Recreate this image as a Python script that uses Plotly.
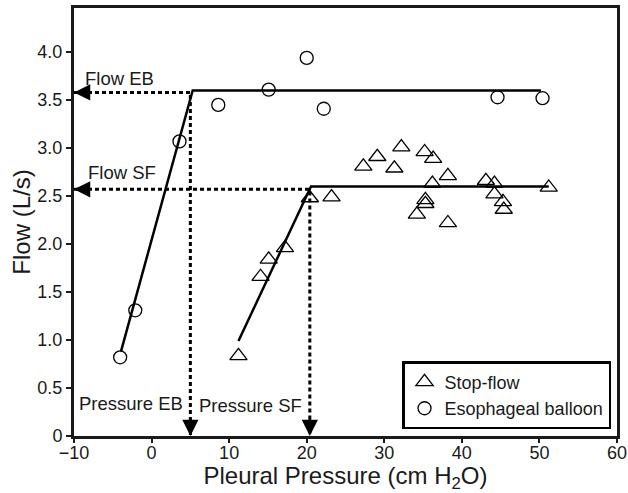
import plotly.graph_objects as go

# Esophageal balloon (circles)
eb_x = [-4.05, -2.1, 3.6, 8.6, 15.1, 20.0, 22.2, 44.6, 50.4]
eb_y = [0.82, 1.31, 3.07, 3.45, 3.61, 3.94, 3.41, 3.53, 3.52]

# Stop-flow (triangles)
sf_x = [11.2, 14.05, 15.1, 17.2, 20.4, 23.2, 27.3, 29.1, 31.3, 32.2, 34.2, 35.2,
        35.3, 35.3, 36.3, 36.2, 38.2, 38.2, 43.1, 44.2, 44.2, 45.3, 45.4, 51.2]
sf_y = [0.835, 1.66, 1.84, 1.96, 2.48, 2.49, 2.81, 2.91, 2.79, 3.01, 2.31, 2.96,
        2.46, 2.42, 2.89, 2.63, 2.71, 2.22, 2.66, 2.63, 2.52, 2.44, 2.36, 2.59]

# Fitted lines (start, break, end)
eb_fit_x = [-3.95, 5.3, 50.2]
eb_fit_y = [0.88, 3.6, 3.6]
sf_fit_x = [11.2, 20.55, 51.2]
sf_fit_y = [0.99, 2.6, 2.6]

eb_break = (5.0, 3.58)
sf_break = (20.4, 2.57)

x_min, x_max = -10, 60
y_min, y_max = 0, 4.46

x_ticks = [-10, 0, 10, 20, 30, 40, 50, 60]
y_ticks = [0, 0.5, 1.0, 1.5, 2.0, 2.5, 3.0, 3.5, 4.0]
y_ticktext = ["0", "0.5", "1.0", "1.5", "2.0", "2.5", "3.0", "3.5", "4.0"]

FONT = "Liberation Sans, Arial, sans-serif"
INK = "#1a1a1a"

fig = go.Figure()

dash_style = dict(color="black", width=3, dash="4px,3px")
for bx, by in (eb_break, sf_break):
    fig.add_trace(go.Scatter(x=[x_min, bx, bx], y=[by, by, y_min], mode="lines",
                             line=dash_style, showlegend=False, hoverinfo="skip"))

fig.add_trace(go.Scatter(x=eb_fit_x, y=eb_fit_y, mode="lines",
                         line=dict(color="black", width=2.5), showlegend=False))
fig.add_trace(go.Scatter(x=sf_fit_x, y=sf_fit_y, mode="lines",
                         line=dict(color="black", width=2.5), showlegend=False))

fig.add_trace(go.Scatter(x=sf_x, y=sf_y, mode="markers", name="Stop-flow",
                         marker=dict(symbol="triangle-up-open", size=15, color="black",
                                     line=dict(width=1.3, color="black"))))
fig.add_trace(go.Scatter(x=eb_x, y=eb_y, mode="markers", name="Esophageal balloon",
                         marker=dict(symbol="circle-open", size=13, color="black",
                                     line=dict(width=1.3, color="black"))))

# Arrowheads
annotations = []
for bx, by in (eb_break, sf_break):
    annotations.append(dict(x=x_min, y=by, ax=x_min + 1.6, ay=by, axref="x", ayref="y",
                            xref="x", yref="y", text="", showarrow=True, arrowhead=2,
                            arrowsize=1.3, arrowwidth=2.5, arrowcolor="black", standoff=0))
    annotations.append(dict(x=bx, y=y_min, ax=bx, ay=y_min + 0.2, axref="x", ayref="y",
                            xref="x", yref="y", text="", showarrow=True, arrowhead=2,
                            arrowsize=1.3, arrowwidth=2.5, arrowcolor="black", standoff=0))

labels = [("Flow EB", -8.9, 3.73), ("Flow SF", -8.5, 2.75),
          ("Pressure EB", -9.6, 0.34), ("Pressure SF", 5.8, 0.32)]
for t, lx, ly in labels:
    annotations.append(dict(x=lx, y=ly, text=t, showarrow=False, xanchor="left",
                            yanchor="middle", font=dict(size=18.5, color=INK, family=FONT)))

fig.update_layout(
    width=628, height=493,
    margin=dict(l=74, r=11, t=8, b=57),
    plot_bgcolor="white", paper_bgcolor="white",
    font=dict(family=FONT, color=INK, size=18),
    annotations=annotations,
    legend=dict(x=0.989, y=0.016, xanchor="right", yanchor="bottom",
                bordercolor="black", borderwidth=2.5, bgcolor="white",
                font=dict(size=18, family=FONT, color=INK), itemwidth=30,
                tracegroupgap=0),
    xaxis=dict(range=[x_min, x_max], tickvals=x_ticks, showgrid=False, zeroline=False,
               showline=True, linecolor=INK, linewidth=3, mirror=True,
               ticks="outside", ticklen=4, tickwidth=1.5, tickcolor=INK,
               tickfont=dict(size=18), automargin=False, ticklabelstandoff=-6,
               title=dict(text="Pleural Pressure (cm H<sub>2</sub>O)", font=dict(size=24),
                          standoff=8)),
    yaxis=dict(range=[y_min, y_max], tickvals=y_ticks, ticktext=y_ticktext,
               showgrid=False, zeroline=False,
               showline=True, linecolor=INK, linewidth=3, mirror=True,
               ticks="outside", ticklen=5, tickwidth=1.5, tickcolor=INK,
               tickfont=dict(size=18), automargin=False,
               title=dict(text="Flow (L/s)", font=dict(size=24), standoff=0)),
)

fig.write_html("out.html", config={"displayModeBar": False},
               post_script="document.body.style.margin='0';document.body.style.padding='0';")
